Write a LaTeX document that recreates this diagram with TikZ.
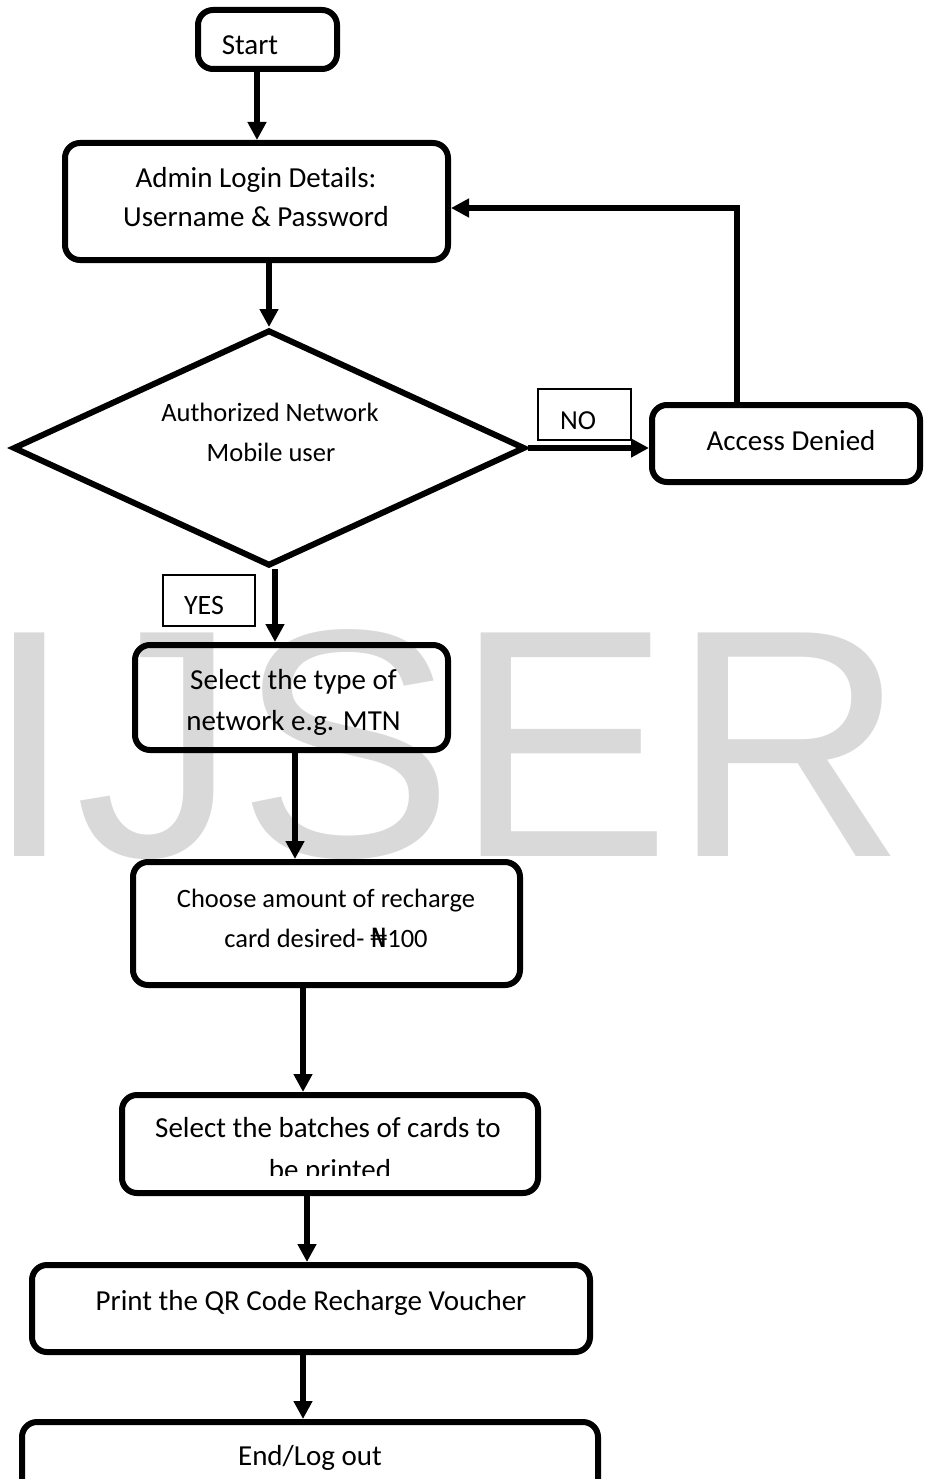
\documentclass[tikz,border=0pt]{standalone}
\usepackage{fontspec}
\setmainfont{Carlito}
\newfontfamily\symfont{DejaVu Sans}
\newfontfamily\wmfont{Liberation Sans}
\usetikzlibrary{arrows.meta,shapes.geometric}
\begin{document}
\begin{tikzpicture}[x=1pt,y=-1pt,
  box/.style={draw, line width=6pt, rounded corners=15pt, inner sep=0pt},
  lbl/.style={draw, line width=1.5pt, inner sep=0pt},
  txt/.style={inner sep=0pt, anchor=base, font=\fontsize{29}{35}\selectfont},
  stxt/.style={inner sep=0pt, anchor=base, font=\fontsize{26.5}{32}\selectfont},
  arr/.style={line width=5.5pt, -{Triangle[length=18pt,width=18pt]}},
]
\clip (0,0) rectangle (924,1479);
% watermark
\node[anchor=base west, inner sep=0pt, text=black!15, font=\wmfont\fontsize{325}{325}\selectfont] (wm) at (-15.5,856) {IJSER};

% boxes
\node[box, minimum width=139, minimum height=59] (start) at (267.5,39.5) {};
\node[txt] (tstart) at (250,55) {Start};

\node[box, minimum width=383, minimum height=117] (admin) at (256.5,201.5) {};
\node[txt] (tadmin1) at (256,188) {Admin Login Details:};
\node[txt] (tadmin2) at (256,227) {Username \& Password};

\node[draw, diamond, line width=6pt, inner sep=0pt, minimum width=512, minimum height=236] (dec) at (269,448) {};
\node[stxt] (tdec1) at (270,421) {Authorized Network};
\node[stxt] (tdec2) at (271,461) {Mobile user};

\node[lbl, minimum width=93, minimum height=51] (nobox) at (584.5,414.5) {};
\node[stxt, font=\fontsize{27.5}{32}\selectfont] (tno) at (578,429) {NO};

\node[box, minimum width=268, minimum height=77] (deny) at (786,443.5) {};
\node[txt] (tdeny) at (791,450) {Access Denied};

\node[lbl, minimum width=92, minimum height=51] (yesbox) at (209,600.5) {};
\node[stxt, font=\fontsize{28}{32}\selectfont] (tyes) at (204,614) {YES};

\node[box, minimum width=313, minimum height=105] (sel) at (291.5,697.5) {};
\node[txt] (tsel1) at (293.5,689) {Select the type of};
\node[txt] (tsel2) at (293.5,730) {network e.g. MTN};

\node[box, minimum width=387, minimum height=123] (amt) at (326.5,923.5) {};
\node[stxt] (tamt1) at (326,907) {Choose amount of recharge};
\node[stxt] (tamt2) at (326,947) {card desired- {\symfont ₦}100};

\node[box, minimum width=416, minimum height=98] (batch) at (330,1144) {};
\node[txt] (tbatch1) at (328,1137) {Select the batches of cards to};
\begin{scope}
\clip (0,0) rectangle (924,1175);
\node[txt] (tbatch2) at (330,1179) {be printed};
\end{scope}

\node[box, minimum width=558, minimum height=87] (print) at (311,1308.5) {};
\node[txt] (tprint) at (311,1310) {Print the QR Code Recharge Voucher};

\node[box, minimum width=576, minimum height=78] (end) at (310,1461) {};
\node[txt] (tend) at (310,1465) {End/Log out};

% connectors
\coordinate (c1) at (257,0);
\coordinate (c2) at (269,0);
\coordinate (c3) at (737,208);
\coordinate (c4) at (275,0);
\coordinate (c5) at (295,0);
\coordinate (c6) at (303,0);
\coordinate (c7) at (307,0);
\coordinate (c8) at (303,0);

\draw[arr] (c1 |- start.south) -- (c1 |- admin.north);
\draw[arr] (c2 |- admin.south) -- (dec.north);
\draw[arr] (dec.east) -- (dec.east -| deny.west);
\draw[arr] (c3 |- deny.north) -- (c3) -- (c3 -| admin.east);
\draw[arr] (c4 |- dec.south) -- (c4 |- sel.north);
\draw[arr] (c5 |- sel.south) -- (c5 |- amt.north);
\draw[arr] (c6 |- amt.south) -- (c6 |- batch.north);
\draw[arr] (c7 |- batch.south) -- (c7 |- print.north);
\draw[arr] (c8 |- print.south) -- (c8 |- end.north);
\end{tikzpicture}
\end{document}
